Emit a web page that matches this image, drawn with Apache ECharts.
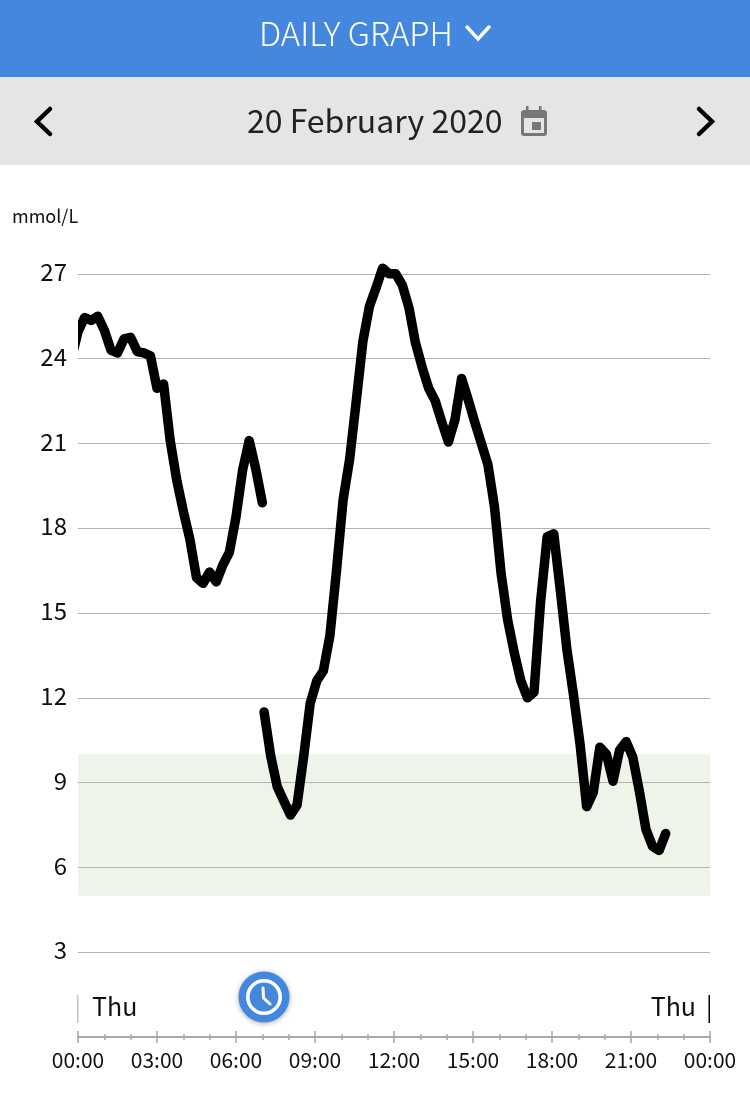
<!DOCTYPE html>
<html>
<head>
<meta charset="utf-8">
<style>html,body{margin:0;padding:0;background:#fff}#c{width:750px;height:1097px}</style>
<script src="https://cdn.jsdelivr.net/npm/echarts@6/dist/echarts.min.js"></script>
</head>
<body>
<div id="c"></div>
<script>
const FONT = '"Noto Sans CJK JP","Noto Sans",sans-serif';
const headerTitle = 'DAILY GRAPH';
const dateLabel = '20 February 2020';
const unitLabel = 'mmol/L';
const dayLabel = 'Thu';
const xTickLabels = ['00:00','03:00','06:00','09:00','12:00','15:00','18:00','21:00','00:00'];
const targetLow = 5;
const targetHigh = 10;
const morningMinutes = [-15,0,15,30,45,60,75,90,105,120,135,150,165,180,195,210,225,240,255,270,285,300,315,330,345,360,375,390,405,420];
const morningValues = [24.0,24.95,25.45,25.35,25.5,25.0,24.3,24.2,24.7,24.75,24.25,24.2,24.1,22.95,23.1,21.1,19.7,18.6,17.6,16.25,16.05,16.45,16.1,16.7,17.15,18.4,20.05,21.1,20.1,18.9];
const dayMinutes = [424,439,454,469,484,499,514,529,544,559,574,589,604,619,634,649,664,679,694,709,724,739,754,769,784,799,814,829,844,859,874,889,904,919,934,949,964,979,994,1009,1024,1039,1054,1069,1084,1099,1114,1129,1144,1159,1174,1189,1204,1219,1234,1249,1264,1279,1294,1309,1324,1339];
const dayValues = [11.5,9.95,8.85,8.35,7.85,8.2,9.9,11.8,12.6,12.95,14.2,16.5,19,20.45,22.5,24.6,25.85,26.5,27.2,27,27,26.6,25.8,24.55,23.7,22.95,22.5,21.75,21.05,21.85,23.3,22.55,21.75,21,20.25,18.75,16.4,14.75,13.6,12.6,12,12.2,15.4,17.7,17.8,15.8,13.7,12.1,10.35,8.15,8.65,10.25,10,9.05,10.15,10.45,9.9,8.7,7.35,6.75,6.6,7.2];

const zip = (a, b) => a.map((v, i) => [v, b[i]]);
const BLUE = '#4487de';
const chevron = (pts, color, w) => ({
  type: 'polyline', shape: { points: pts },
  style: { stroke: color, lineWidth: w, fill: null, lineCap: 'round', lineJoin: 'miter' }
});
const label = (x, y, text, size, color, align, weight) => ({
  type: 'text', x, y,
  style: { text, fontFamily: FONT, fontSize: size, fill: color, align: align || 'left', verticalAlign: 'middle', fontWeight: weight || 'normal' }
});

const chart = echarts.init(document.getElementById('c'), null, { renderer: 'canvas', width: 750, height: 1097 });
chart.setOption({
  animation: false,
  backgroundColor: '#fff',
  grid: { left: 78, right: 40, top: 189, bottom: 60 },
  xAxis: [{
    type: 'value', min: 0, max: 1440, interval: 180, position: 'bottom',
    axisLine: { show: true, onZero: false, lineStyle: { color: '#a8a8a8', width: 2 } },
    axisTick: { show: true, length: 6, lineStyle: { color: '#a8a8a8', width: 1.5 } },
    minorTick: { show: true, splitNumber: 3, length: 3, lineStyle: { color: '#a8a8a8', width: 1.5 } },
    splitLine: { show: false },
    axisLabel: { show: true, margin: 13, fontFamily: FONT, fontSize: 21, color: '#111', hideOverlap: false,
      showMinLabel: true, showMaxLabel: true,
      formatter: v => xTickLabels[Math.round(v / 180)] }
  }, {
    type: 'value', min: 0, max: 1440, interval: 180, position: 'bottom', offset: 0,
    axisLine: { show: false, onZero: false },
    axisTick: { show: true, inside: true, length: 6, lineStyle: { color: '#a8a8a8', width: 1.5 } },
    minorTick: { show: true, splitNumber: 3, length: 3, lineStyle: { color: '#a8a8a8', width: 1.5 } },
    splitLine: { show: false },
    axisLabel: { show: false }
  }],
  yAxis: {
    type: 'value', min: 0, max: 30, interval: 3,
    axisLine: { show: false }, axisTick: { show: false },
    splitLine: { show: true, showMinLine: false, showMaxLine: false, lineStyle: { color: '#b2b2b2', width: 1 } },
    axisLabel: { margin: 11, fontFamily: FONT, fontSize: 24, color: '#111', showMinLabel: false, showMaxLabel: false,
      verticalAlign: 'bottom', lineHeight: 4,
      formatter: v => (v === 0 || v === 30) ? '' : String(v) }
  },
  series: [{
    type: 'line', xAxisIndex: 0, data: zip(morningMinutes, morningValues), showSymbol: false, symbol: 'none',
    lineStyle: { color: '#000', width: 9.5, cap: 'round', join: 'round' }, silent: true, z: 3,
    markArea: { silent: true, z: 1, itemStyle: { color: 'rgba(175,200,140,0.2)' },
      data: [[{ yAxis: targetLow }, { yAxis: targetHigh }]] }
  }, {
    type: 'line', xAxisIndex: 0, data: zip(dayMinutes, dayValues), showSymbol: false, symbol: 'none',
    lineStyle: { color: '#000', width: 9.5, cap: 'round', join: 'round' }, silent: true, z: 3
  }],
  graphic: [
    { type: 'rect', z: 10, shape: { x: 68, y: 320, width: 10, height: 60 }, style: { fill: '#fff' } },
    { type: 'rect', shape: { x: 0, y: 0, width: 750, height: 77 }, style: { fill: BLUE } },
    { type: 'rect', shape: { x: 0, y: 77, width: 750, height: 88 }, style: { fill: '#e5e5e5' } },
    label(259, 33, headerTitle, 33, '#fff', 'left', 300),
    chevron([[467, 27], [478, 39], [489, 27]], '#fff', 3.5),
    label(247, 121, dateLabel, 32, '#222', 'left', 'normal'),
    chevron([[50, 109], [37, 121.5], [50, 134]], '#000', 4.5),
    chevron([[699, 109], [712, 121.5], [699, 134]], '#000', 4.5),
    { type: 'rect', shape: { x: 521, y: 110, width: 26, height: 26, r: 3 }, style: { fill: '#777' } },
    { type: 'rect', shape: { x: 526, y: 106, width: 2.5, height: 6 }, style: { fill: '#777' } },
    { type: 'rect', shape: { x: 539, y: 106, width: 2.5, height: 6 }, style: { fill: '#777' } },
    { type: 'rect', shape: { x: 524, y: 118, width: 20, height: 15 }, style: { fill: '#e5e5e5' } },
    { type: 'rect', shape: { x: 532, y: 122, width: 9, height: 8 }, style: { fill: '#777' } },
    label(12, 216, unitLabel, 18, '#111'),
    { type: 'rect', shape: { x: 77, y: 995, width: 1.5, height: 28 }, style: { fill: '#c4c4c4' } },
    { type: 'rect', shape: { x: 708.5, y: 995, width: 1.5, height: 28 }, style: { fill: '#000' } },
    label(92, 1006, dayLabel, 25, '#111'),
    label(696, 1006, dayLabel, 25, '#111', 'right'),
    { type: 'circle', shape: { cx: 264, cy: 997, r: 25.5 },
      style: { fill: BLUE, shadowBlur: 5, shadowColor: 'rgba(0,0,0,0.35)', shadowOffsetY: 1 } },
    { type: 'circle', shape: { cx: 264, cy: 997, r: 16.2 }, style: { fill: BLUE, stroke: '#fff', lineWidth: 3.6 } },
    { type: 'polyline', shape: { points: [[263, 988], [263.5, 998], [270, 1004]] },
      style: { stroke: '#fff', lineWidth: 3, fill: null, lineCap: 'round', lineJoin: 'round' } }
  ]
});
</script>
</body>
</html>
